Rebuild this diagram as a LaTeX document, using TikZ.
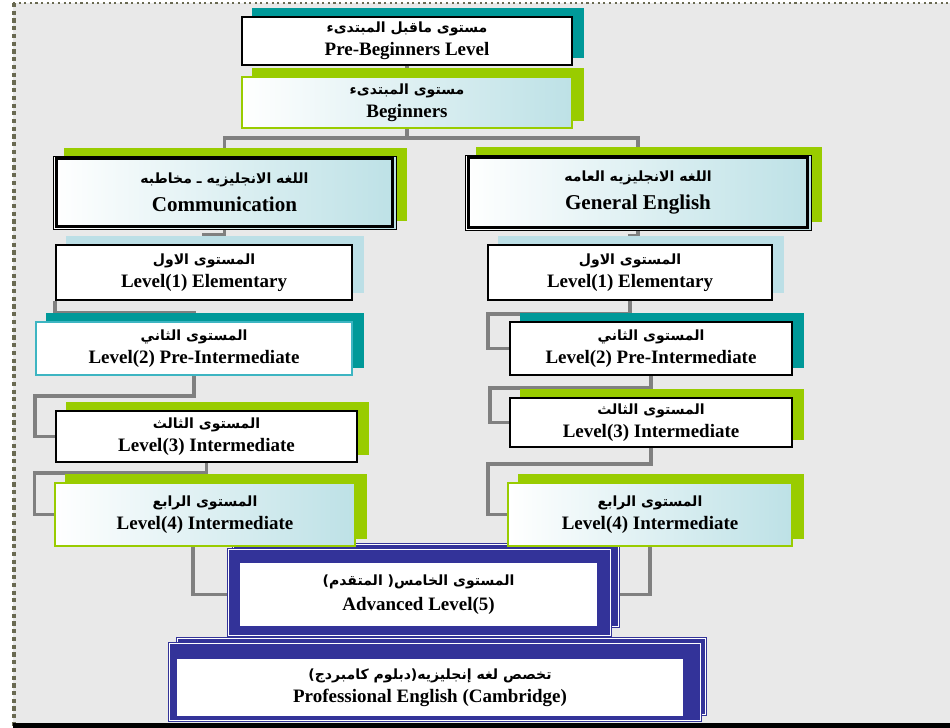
\documentclass[tikz,border=0pt]{standalone}
\usepackage{fontspec}
\setmainfont{Liberation Serif}
\newfontfamily\arabfont[Script=Arabic]{DejaVu Sans}
\TeXXeTstate=1
\usetikzlibrary{positioning}
\definecolor{bggray}{HTML}{E9E9E9}
\definecolor{framegray}{HTML}{6A6A52}
\definecolor{tealsh}{HTML}{009999}
\definecolor{greensh}{HTML}{99CC00}
\definecolor{bluesh}{HTML}{BCDFE6}
\definecolor{gradblue}{HTML}{BDE1E6}
\definecolor{linegray}{HTML}{808080}
\definecolor{navy}{HTML}{333399}
\definecolor{tealline}{HTML}{3DB5C2}
\pgfdeclarelayer{lines}
\pgfdeclarelayer{shades}
\pgfsetlayers{lines,shades,main}
\newcommand{\ar}[1]{{\arabfont\fontsize{8}{9}\selectfont\beginR #1\endR}}
\begin{document}
\begin{tikzpicture}[x=0.02cm,y=-0.02cm,
  lvl/.style={rectangle,inner sep=0pt,align=center,font=\fontsize{10.8}{13}\selectfont\bfseries},
  plainbox/.style={lvl,draw=black,line width=0.8pt,fill=white},
  greenbox/.style={lvl,draw=greensh,line width=0.8pt,left color=white,right color=gradblue},
  twinbox/.style={lvl,draw=black,line width=0.5pt,left color=white,right color=gradblue,font=\fontsize{12}{15}\selectfont\bfseries},
  navybox/.style={lvl,draw=navy,line width=0.5pt,double=white,double distance=0.6pt,fill=white},
  conn/.style={draw=linegray,line width=2.2pt}]
\useasboundingbox (0,0) rectangle (950,727);

\begin{pgfonlayer}{lines}
\fill[bggray] (13,3) rectangle (950,724);
\draw[framegray,line width=1.2pt,dotted] (13,3) -- (950,3);
\draw[framegray,line width=2.4pt,dotted] (14,3) -- (14,727);
\draw[black,line width=2.6pt] (13,725.5) -- (950,725.5);
\end{pgfonlayer}

\node[plainbox,minimum width=6.6cm,minimum height=0.96cm] (pre) at (407,41)
  {\ar{مستوى ماقبل المبتدىء}\\ Pre-Beginners Level};
\node[greenbox,minimum width=6.6cm,minimum height=1.02cm] (beg) at (407,102.5)
  {\ar{مستوى المبتدىء}\\ Beginners};

\node[twinbox,minimum width=6.86cm,minimum height=1.46cm] (com) at (224.5,192.5)
  {\ar{اللغه الانجليزيه ـ مخاطبه}\\[1pt] Communication};
\node[twinbox,minimum width=6.92cm,minimum height=1.5cm] (gen) at (638,192.5)
  {\ar{اللغه الانجليزيه العامه}\\[1pt] General English};

\node[plainbox,minimum width=5.92cm,minimum height=1.1cm] (lA1) at (204,272.5)
  {\ar{المستوى الاول}\\ Level(1) Elementary};
\node[plainbox,draw=tealline,minimum width=6.32cm,minimum height=1.06cm] (lA2) at (194,348.5)
  {\ar{المستوى الثاني}\\ Level(2) Pre-Intermediate};
\node[plainbox,minimum width=6.02cm,minimum height=1.02cm] (lA3) at (206.5,436.5)
  {\ar{المستوى الثالث}\\ Level(3) Intermediate};
\node[greenbox,minimum width=6cm,minimum height=1.26cm] (lA4) at (205,514.5)
  {\ar{المستوى الرابع}\\ Level(4) Intermediate};

\node[plainbox,minimum width=5.68cm,minimum height=1.1cm] (rA1) at (630,272.5)
  {\ar{المستوى الاول}\\ Level(1) Elementary};
\node[plainbox,minimum width=5.64cm,minimum height=1.06cm] (rA2) at (651,348.5)
  {\ar{المستوى الثاني}\\ Level(2) Pre-Intermediate};
\node[plainbox,minimum width=5.64cm,minimum height=0.98cm] (rA3) at (651,422.5)
  {\ar{المستوى الثالث}\\ Level(3) Intermediate};
\node[greenbox,minimum width=5.68cm,minimum height=1.26cm] (rA4) at (650,514.5)
  {\ar{المستوى الرابع}\\ Level(4) Intermediate};

\node[navybox,minimum width=7.14cm,minimum height=1.22cm] (adv) at (418.5,594.5)
  {\ar{المستوى الخامس( المتقدم)}\\[1pt] Advanced Level(5)};
\node[navybox,minimum width=10.12cm,minimum height=1.1cm] (pro) at (430,687.5)
  {\ar{تخصص لغه إنجليزيه(دبلوم كامبردج)}\\ Professional English (Cambridge)};

\foreach \n in {com,gen}
  \draw[line width=1.8pt] ([shift={(4,3)}]\n.north west) rectangle ([shift={(-4,-3)}]\n.south east);

\begin{pgfonlayer}{shades}
\foreach \n/\c in {pre/tealsh,beg/greensh,com/greensh,gen/greensh,lA1/bluesh,rA1/bluesh,
    lA2/tealsh,rA2/tealsh,lA3/greensh,rA3/greensh,lA4/greensh,rA4/greensh}
  \fill[\c] ([shift={(11,-8)}]\n.north west) rectangle ([shift={(11,-8)}]\n.south east);

\fill[navy] ([shift={(-8,-21)}]adv.north west) rectangle ([shift={(23,3)}]adv.south east);
\draw[white,line width=0.4pt] ([shift={(-6,-19)}]adv.north west) rectangle ([shift={(21,1)}]adv.south east);
\fill[navy] ([shift={(-13,-16)}]adv.north west) rectangle ([shift={(15,12)}]adv.south east);
\draw[white,line width=0.4pt] ([shift={(-11,-14)}]adv.north west) rectangle ([shift={(13,10)}]adv.south east);

\fill[navy] ([shift={(-1,-23)}]pro.north west) rectangle ([shift={(24,1)}]pro.south east);
\draw[white,line width=0.4pt] ([shift={(1,-21)}]pro.north west) rectangle ([shift={(22,-1)}]pro.south east);
\fill[navy] ([shift={(-9,-18)}]pro.north west) rectangle ([shift={(19,7)}]pro.south east);
\draw[white,line width=0.4pt] ([shift={(-7,-16)}]pro.north west) rectangle ([shift={(17,5)}]pro.south east);
\end{pgfonlayer}

\begin{pgfonlayer}{lines}
\draw[conn] (pre) -- (beg);
\draw[conn] (beg.south) -- ++(0,9) -| (com.north);
\draw[conn] (beg.south) -- ++(0,9) -| (gen.north);
\draw[conn] (com.south) -- ++(0,5) -| (lA1.north);
\draw[conn] (gen.south) -- ++(0,5) -| (rA1.north);
\draw[conn] (lA1.south west) -- ++(0,12) -| (lA2.north);
\draw[conn] (lA2.south) -- ++(0,20) -- ++(-159,0) |- (lA3.west);
\draw[conn] (lA3.south) -- ++(0,10) -- ++(-172,0) |- (lA4.west);
\draw[conn] ([xshift=-0.24cm]lA4.south) |- (adv.west);
\draw[conn] (rA1.south) -- ++(0,13) -- ++(-142,0) |- (rA2.west);
\draw[conn] (rA2.south) -- ++(0,12) -- ++(-161,0) |- (rA3.west);
\draw[conn] (rA3.south) -- ++(0,16) -- ++(-163,0) |- (rA4.west);
\draw[conn] (rA4.south) |- (adv.east);
\draw[conn] (pro.north |- adv.south) -- (pro.north);
\end{pgfonlayer}
\end{tikzpicture}
\end{document}
